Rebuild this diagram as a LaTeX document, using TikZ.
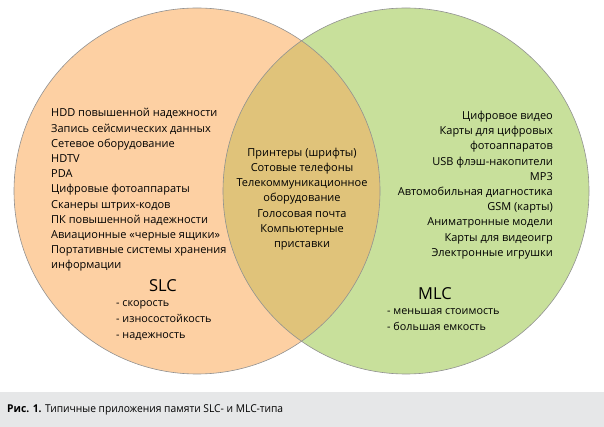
\documentclass[tikz,border=0pt]{standalone}
\usepackage{fontspec}
\setmainfont{Open Sans}
\newfontfamily\capfont[FakeStretch=0.95]{Open Sans}
\usetikzlibrary{positioning}

\definecolor{slcfill}{RGB}{253,208,163}
\definecolor{mlcfill}{RGB}{200,224,155}
\definecolor{bothfill}{RGB}{224,195,122}
\definecolor{edgegray}{RGB}{145,145,145}
\definecolor{capgray}{RGB}{230,231,232}

\begin{document}
\begin{tikzpicture}[x=1pt, y=-1pt,
    set/.style={draw=edgegray, line width=0.6pt},
    list/.style={font=\fontsize{11}{15.2}\selectfont, inner sep=0pt},
    head/.style={font=\fontsize{16.5}{20}\selectfont, inner sep=0pt},
    item/.style={font=\fontsize{10.8}{16.2}\selectfont, inner sep=0pt, align=left},
]
    \useasboundingbox (0,0) rectangle (604,427);

    % the two sets
    \coordinate (slc) at (197,191);
    \coordinate (mlc) at (406,191);
    \fill[slcfill] (slc) circle (183);
    \fill[mlcfill] (mlc) circle (183);
    \begin{scope}
        \clip (slc) circle (183);
        \fill[bothfill] (mlc) circle (183);
    \end{scope}
    \draw[set] (slc) circle (183);
    \draw[set] (mlc) circle (183);

    % applications
    \node[list, align=left, anchor=west] (slclist) at (51,190)
        {HDD повышенной надежности\\
         Запись сейсмических данных\\
         Сетевое оборудование\\
         HDTV\\
         PDA\\
         Цифровые фотоаппараты\\
         Сканеры штрих-кодов\\
         ПК повышенной надежности\\
         Авиационные «черные ящики»\\
         Портативные системы хранения\\
         информации};
    \node[list, align=center] (bothlist) at (302,199)
        {Принтеры (шрифты)\\
         Сотовые телефоны\\
         Телекоммуникационное\\
         оборудование\\
         Голосовая почта\\
         Компьютерные\\
         приставки};
    \node[list, align=right, anchor=east] (mlclist) at (553,185)
        {Цифровое видео\\
         Карты для цифровых\\
         фотоаппаратов\\
         USB флэш-накопители\\
         MP3\\
         Автомобильная диагностика\\
         GSM (карты)\\
         Аниматронные модели\\
         Карты для видеоигр\\
         Электронные игрушки};

    % properties
    \node[head] (slchead) at (163,286) {SLC};
    \node[item, anchor=north west] (slcitems) at (116,300)
        {- скорость\\- износостойкость\\- надежность};
    \node[head] (mlchead) at (435,294) {MLC};
    \node[item, anchor=north west] (mlcitems) at (387,308)
        {- меньшая стоимость\\- большая емкость};

    % caption
    \fill[capgray] (0,392) rectangle (604,427);
    \node[anchor=west, inner sep=0pt, font=\capfont\fontsize{10.8}{12}\selectfont] (caption) at (7,410)
        {\textbf{Рис. 1.} Типичные приложения памяти SLC- и MLC-типа};
\end{tikzpicture}
\end{document}
